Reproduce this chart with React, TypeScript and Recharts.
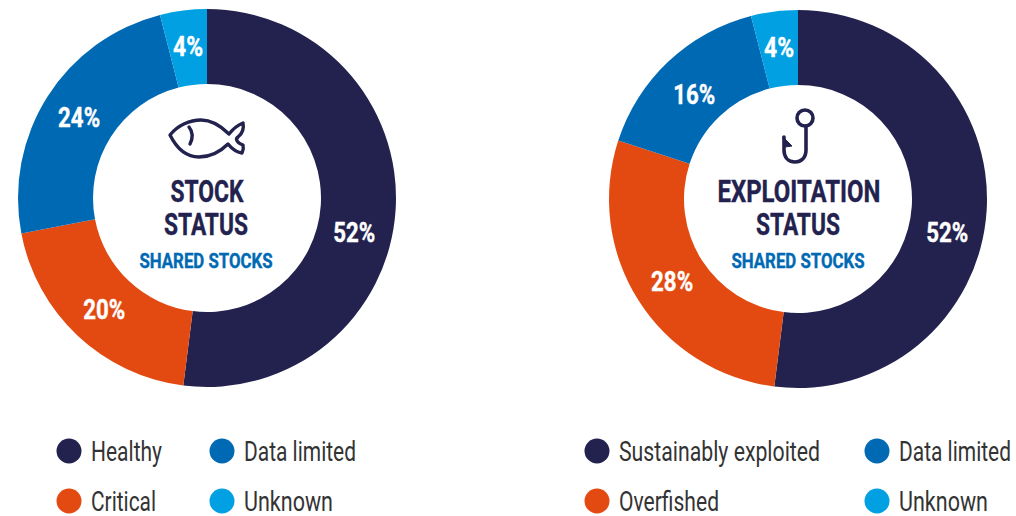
import { PieChart, Pie, Cell } from "recharts";

const NAVY = "#23224f";
const ORANGE = "#e34a11";
const BLUE = "#0069b4";
const CYAN = "#00a0e3";
const FONT = "Roboto, sans-serif";

const stockNames = ["Healthy", "Critical", "Data limited", "Unknown"];
const stockValues = [52, 20, 24, 4];
const exploitationNames = ["Sustainably exploited", "Overfished", "Data limited", "Unknown"];
const exploitationValues = [52, 28, 16, 4];
const sliceColors = [NAVY, ORANGE, BLUE, CYAN];

// hand offsets for the percent labels, [dx, dy] per slice
const stockNudge = [[-4, 24], [1, 1], [0, 0], [0, -2]];
const exploitationNudge = [[-2, 23], [2, 1], [0, 5], [0, -2]];

const toRows = (names: string[], values: number[]) => names.map((name, i) => ({ name, value: values[i] }));

const pctLabel = (nudge: number[][]) => (props: any) => {
  const { cx, cy, midAngle, innerRadius, outerRadius, value, index } = props;
  const r = (innerRadius + outerRadius) / 2;
  const rad = (midAngle * Math.PI) / 180;
  const x = cx + r * Math.cos(rad) + nudge[index][0];
  const y = cy - r * Math.sin(rad) + nudge[index][1];
  return (
    <text
      x={x}
      y={y + 10}
      textAnchor="middle"
      fill="#fff"
      stroke="#fff"
      strokeWidth={0.4}
      fontFamily={FONT}
      fontWeight={700}
      fontSize={28}
      textLength={value < 10 ? 30 : 42}
      lengthAdjust="spacingAndGlyphs"
    >
      {value}%
    </text>
  );
};

function Donut({ left, top, names, values, nudge }: { left: number; top: number; names: string[]; values: number[]; nudge: number[][] }) {
  return (
    <div style={{ position: "absolute", left, top }}>
      <PieChart width={400} height={400} margin={{ top: 0, right: 0, bottom: 0, left: 0 }}>
        <Pie
          data={toRows(names, values)}
          dataKey="value"
          cx={200}
          cy={200}
          innerRadius={114}
          outerRadius={189}
          startAngle={90}
          endAngle={-270}
          stroke="none"
          label={pctLabel(nudge)}
          labelLine={false}
          isAnimationActive={false}
        >
          {values.map((_, i) => (
            <Cell key={i} fill={sliceColors[i]} />
          ))}
        </Pie>
      </PieChart>
    </div>
  );
}

function Legend({ items }: { items: { name: string; x: number; y: number; w: number; color: string }[] }) {
  return (
    <>
      {items.map((d) => (
        <g key={d.name + d.x}>
          <circle cx={d.x} cy={d.y} r={12.5} fill={d.color} />
          <text
            x={d.x + 22}
            y={d.y + 10}
            fill="#333"
            fontFamily={FONT}
            fontSize={27}
            textLength={d.w}
            lengthAdjust="spacingAndGlyphs"
          >
            {d.name}
          </text>
        </g>
      ))}
    </>
  );
}

function Heading({ x, y, w, size, color, children }: { x: number; y: number; w: number; size: number; color: string; children: string }) {
  return (
    <text
      x={x}
      y={y}
      fill={color}
      stroke={color}
      strokeWidth={0.4}
      fontFamily={FONT}
      fontWeight={700}
      fontSize={size}
      textAnchor="middle"
      textLength={w}
      lengthAdjust="spacingAndGlyphs"
    >
      {children}
    </text>
  );
}

function Overlay() {
  return (
    <svg width={1016} height={516} style={{ position: "absolute", left: 0, top: 0 }}>
      {/* fish */}
      <g fill="none" stroke={NAVY} strokeWidth={3.4} strokeLinecap="round" strokeLinejoin="round">
        <path d="M170 135 C178 125 190 120 201 120 C213 120 222 127 229 134 C233 129 238 125 243 123 C244 128 243 133 238 137 C235 139 237 143 243 145 C244 149 243 151 242 153 C236 152 232 149 228 144 C221 151 212 157 199 157 C187 157 177 149 170 135 Z" />
        <path d="M189 127 C193 132 193 138 190 144" />
      </g>
      {/* hook */}
      <g fill="none" stroke={NAVY} strokeWidth={3.6} strokeLinecap="round" strokeLinejoin="round">
        <circle cx={805} cy={118} r={8} />
        <path d="M806 126 V150 C806 158 801 162 795 162 C788 162 784 157 784 150 V137" />
        <path d="M783 137 L792 146 L785 147 Z" fill={NAVY} strokeWidth={1} />
      </g>
      <Heading x={207} y={202} w={73} size={32} color={NAVY}>STOCK</Heading>
      <Heading x={206} y={235} w={84} size={32} color={NAVY}>STATUS</Heading>
      <Heading x={206} y={268} w={133} size={21} color={BLUE}>SHARED STOCKS</Heading>
      <Heading x={799} y={202} w={163} size={32} color={NAVY}>EXPLOITATION</Heading>
      <Heading x={798} y={235} w={84} size={32} color={NAVY}>STATUS</Heading>
      <Heading x={798} y={268} w={133} size={21} color={BLUE}>SHARED STOCKS</Heading>
      <Legend
        items={[
          { name: stockNames[0], x: 69, y: 451, w: 71, color: NAVY },
          { name: stockNames[2], x: 222, y: 451, w: 112, color: BLUE },
          { name: stockNames[1], x: 69, y: 501, w: 65, color: ORANGE },
          { name: stockNames[3], x: 222, y: 501, w: 89, color: CYAN },
          { name: exploitationNames[0], x: 597, y: 451, w: 201, color: NAVY },
          { name: exploitationNames[2], x: 877, y: 451, w: 112, color: BLUE },
          { name: exploitationNames[1], x: 597, y: 501, w: 100, color: ORANGE },
          { name: exploitationNames[3], x: 877, y: 501, w: 89, color: CYAN },
        ]}
      />
    </svg>
  );
}

export default function App() {
  return (
    <div style={{ position: "absolute", left: 0, top: 0, width: 1016, height: 516, background: "#fff", overflow: "hidden" }}>
      <Donut left={7} top={-2} names={stockNames} values={stockValues} nudge={stockNudge} />
      <Donut left={598} top={-1} names={exploitationNames} values={exploitationValues} nudge={exploitationNudge} />
      <Overlay />
    </div>
  );
}
